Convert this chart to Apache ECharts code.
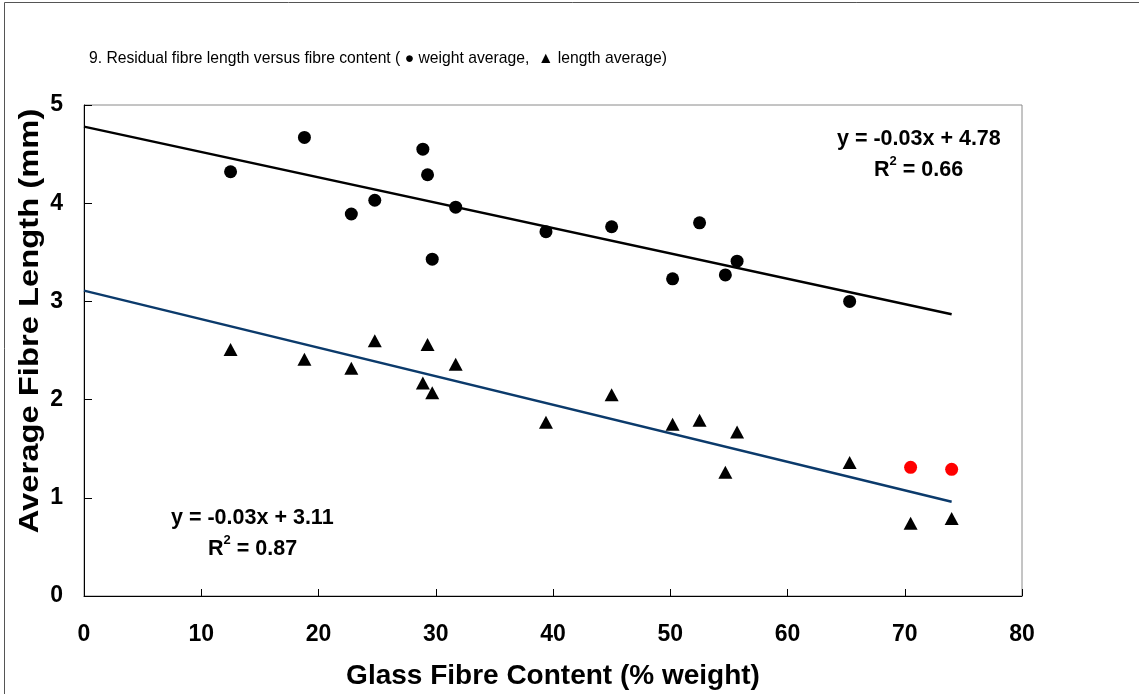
<!DOCTYPE html>
<html>
<head>
<meta charset="utf-8">
<script src="https://cdn.jsdelivr.net/npm/echarts@6/dist/echarts.min.js"></script>
<style>html,body{margin:0;padding:0;background:#fff;}#c{width:1139px;height:694px;}</style>
</head>
<body>
<div id="c"></div>
<script>
// Glass fibre content (% weight)
const fibreContent = [12.5, 18.8, 22.8, 24.8, 28.9, 29.3, 29.7, 31.7, 39.4, 45.0, 50.2, 52.5, 54.7, 55.7, 65.3];
const weightAverage = [4.32, 4.67, 3.89, 4.03, 4.55, 4.29, 3.43, 3.96, 3.71, 3.76, 3.23, 3.80, 3.27, 3.41, 3.00];
const extraContent = [70.5, 74.0];
const extraWeightAverage = [1.31, 1.29];
const lengthContent = [12.5, 18.8, 22.8, 24.8, 28.9, 29.3, 29.7, 31.7, 39.4, 45.0, 50.2, 52.5, 54.7, 55.7, 65.3, 70.5, 74.0];
const lengthAverage = [2.51, 2.41, 2.32, 2.60, 2.17, 2.56, 2.07, 2.36, 1.77, 2.05, 1.75, 1.79, 1.26, 1.67, 1.36, 0.74, 0.79];
const weightTrend = [[0, 4.78], [74, 2.87]];
const lengthTrend = [[0, 3.11], [74, 0.96]];
const xTicks = [0, 10, 20, 30, 40, 50, 60, 70, 80];
const yTicks = [0, 1, 2, 3, 4, 5];

const zip = (a, b) => a.map((v, i) => [v, b[i]]);
const F = '"Liberation Sans", Arial, sans-serif';
const richEq = {
  n: { font: 'bold 21.5px ' + F, fill: '#000', lineHeight: 26, verticalAlign: 'bottom' },
  s: { font: 'bold 13px ' + F, fill: '#000', lineHeight: 26, verticalAlign: 'top' }
};

const chart = echarts.init(document.getElementById('c'));
chart.setOption({
  animation: false,
  backgroundColor: '#fff',
  grid: { left: 84, top: 105, right: 117, bottom: 98, containLabel: false, outerBoundsMode: 'none', show: true, borderColor: '#8a8a8a', borderWidth: 1 },
  title: {
    text: '9. Residual fibre length versus fibre content ( \u25CF weight average,  \u25B2 length average)',
    left: 84, top: 46,
    textStyle: { fontFamily: F, fontSize: 15.7, fontWeight: 'normal', color: '#000' }
  },
  xAxis: {
    type: 'value', min: xTicks[0], max: xTicks[xTicks.length - 1], interval: 10,
    name: 'Glass Fibre Content (% weight)', nameLocation: 'middle', nameGap: 66,
    nameTextStyle: { fontFamily: F, fontSize: 28, fontWeight: 'bold', color: '#000' },
    axisLine: { show: true, lineStyle: { color: '#000', width: 1 } },
    axisTick: { show: true, inside: true, length: 7, lineStyle: { color: '#000' } },
    axisLabel: { fontFamily: F, fontSize: 23, fontWeight: 'bold', color: '#000', margin: 27 },
    splitLine: { show: false }
  },
  yAxis: {
    type: 'value', min: yTicks[0], max: yTicks[yTicks.length - 1], interval: 1,
    axisLine: { show: true, lineStyle: { color: '#000', width: 1 } },
    axisTick: { show: true, inside: true, length: 8, lineStyle: { color: '#000' } },
    axisLabel: { fontFamily: F, fontSize: 23, fontWeight: 'bold', color: '#000', margin: 21 },
    splitLine: { show: false }
  },
  series: [
    { type: 'line', data: weightTrend, symbol: 'none', lineStyle: { color: '#000', width: 2.5 }, z: 2 },
    { type: 'line', data: lengthTrend, symbol: 'none', lineStyle: { color: '#0b3a6b', width: 2.5 }, z: 2 },
    { type: 'scatter', data: zip(fibreContent, weightAverage), symbol: 'circle', symbolSize: 13, itemStyle: { color: '#000', opacity: 1 }, z: 3 },
    { type: 'scatter', data: zip(extraContent, extraWeightAverage), symbol: 'circle', symbolSize: 13, itemStyle: { color: '#ff0000', opacity: 1 }, z: 3 },
    { type: 'scatter', data: zip(lengthContent, lengthAverage), symbol: 'triangle', symbolSize: [14, 13], itemStyle: { color: '#000', opacity: 1 }, z: 3 }
  ],
  graphic: [
    { type: 'rect', shape: { x: 4.5, y: 2.5, width: 1200, height: 800 }, style: { fill: 'none', stroke: '#555', lineWidth: 1 }, silent: true, z: -10 },
    { type: 'text', x: 30, y: 321, rotation: Math.PI / 2, scaleX: 1.17, scaleY: 1,
      style: { text: 'Average Fibre Length (mm)', font: 'bold 28px ' + F, fill: '#000', align: 'center', verticalAlign: 'middle' } },
    { type: 'text', left: 837, top: 128, style: { text: 'y = -0.03x + 4.78', font: 'bold 21.5px ' + F, fill: '#000' } },
    { type: 'text', left: 874, top: 155, style: { text: '{n|R}{s|2}{n| = 0.66}', rich: richEq } },
    { type: 'text', left: 171, top: 507, style: { text: 'y = -0.03x + 3.11', font: 'bold 21.5px ' + F, fill: '#000' } },
    { type: 'text', left: 208, top: 534, style: { text: '{n|R}{s|2}{n| = 0.87}', rich: richEq } }
  ]
});
</script>
</body>
</html>
